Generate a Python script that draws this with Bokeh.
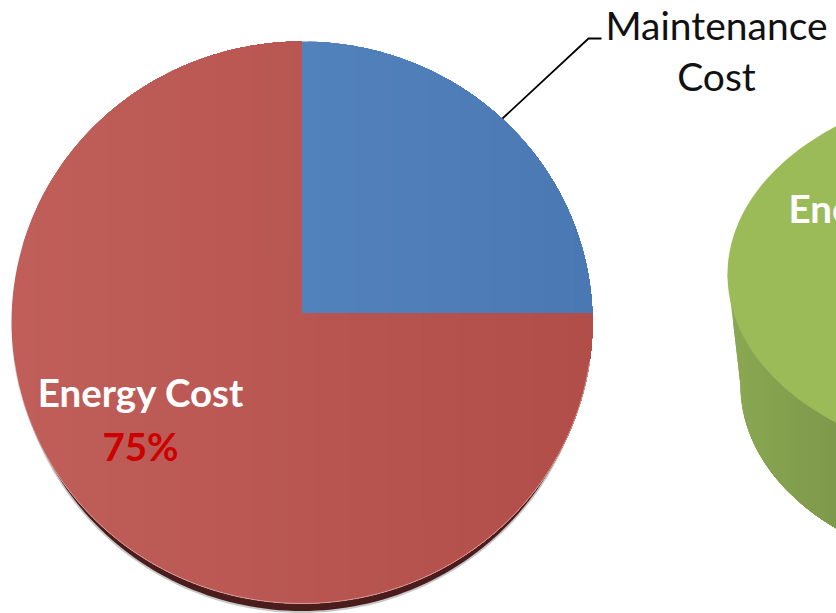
import math
from bokeh.plotting import figure
from bokeh.models import Range1d
from bokeh.embed import file_html
from bokeh.resources import INLINE
from bokeh.core.properties import value

slice_labels = ["Maintenance Cost", "Energy Cost"]
slice_shares = [25, 75]
slice_left_rgb = [(82, 130, 188), (192, 94, 90)]
slice_right_rgb = [(74, 120, 178), (177, 78, 74)]
pct_label = "75%"
FONT = value("Lato")

W, H = 836, 613
p = figure(width=W, height=H, output_backend="svg", toolbar_location=None,
           x_range=Range1d(0, W), y_range=Range1d(H, 0), min_border=0)
p.axis.visible = False
p.grid.visible = False
p.outline_line_color = None
p.background_fill_color = "white"
p.border_fill_color = "white"

AX, AY = 301.5, 313.0
CX, CY, RA, RB = 301.5, 322.0, 290.5, 281.0


def ray_hit(deg):
    dx, dy = math.cos(math.radians(deg)), -math.sin(math.radians(deg))
    ox, oy = (AX - CX) / RA, (AY - CY) / RB
    ux, uy = dx / RA, dy / RB
    a = ux * ux + uy * uy
    b = 2 * (ox * ux + oy * uy)
    c = ox * ox + oy * oy - 1
    t = (-b + math.sqrt(b * b - 4 * a * c)) / (2 * a)
    return AX + t * dx, AY + t * dy


def clip_right(pts, x0):
    out = []
    for i, (x1, y1) in enumerate(pts):
        x2, y2 = pts[(i + 1) % len(pts)]
        if x1 >= x0:
            out.append((x1, y1))
        if (x1 < x0) != (x2 < x0):
            f = (x0 - x1) / (x2 - x1)
            out.append((x0, y1 + f * (y2 - y1)))
    return out


def painted(pts, xa, xb, c0, c1, n=48):
    for i in range(n):
        x0 = xa + (xb - xa) * i / n
        poly = clip_right(pts, x0)
        if len(poly) < 3:
            continue
        f = i / (n - 1)
        col = tuple(round(u + (v - u) * f) for u, v in zip(c0, c1))
        p.patch([q[0] for q in poly], [q[1] for q in poly], fill_color="#%02x%02x%02x" % col, line_color=None)


def ell(cx, cy, a, b, t0, t1, n=160):
    return [(cx + a * math.cos(math.radians(t0 + (t1 - t0) * i / n)),
             cy + b * math.sin(math.radians(t0 + (t1 - t0) * i / n))) for i in range(n + 1)]


# Right-hand 3D pie, cut off by the picture edge
top_c = (1017, 274, 290, 190)
low_c = (1017, 385, 277, 189)
side = [(727, 274)] + ell(*low_c, 180, 90) + [(1017, 274)]
painted(side, 727, 900, (138, 168, 82), (118, 144, 70), n=30)
top = ell(*top_c, 0, 360, n=240)
p.patch([q[0] for q in top], [q[1] for q in top], fill_color="#9bbb59", line_color=None)

# Soft shadow and dark rim of the main pie
shadow = ell(CX, CY + 9.5, RA - 4, RB, 0, 360, n=240)
p.patch([q[0] for q in shadow], [q[1] for q in shadow], fill_color="#000000", fill_alpha=0.22, line_color=None)
rim = ell(CX, CY + 8, RA - 5, RB - 0.5, 0, 360, n=240)
p.patch([q[0] for q in rim], [q[1] for q in rim], fill_color="#4b1c1c", line_color=None)

# Pie slices, from the shares, clockwise from the top
total = sum(slice_shares)
angle = 90.0
for k, share in enumerate(slice_shares):
    end = angle - 360.0 * share / total
    n = max(8, int(share * 4))
    arc = [ray_hit(angle + (end - angle) * i / n) for i in range(n + 1)]
    poly = [(AX, AY)] + arc
    xs = [q[0] for q in poly]
    painted(poly, min(xs), max(xs), slice_left_rgb[k], slice_right_rgb[k])
    angle = end

# Thin highlight on the lower edge
edge = ell(CX, CY, RA, RB, 8, 172)
p.line([q[0] for q in edge], [q[1] for q in edge], line_color="#e8c8c6", line_width=0.8, line_alpha=0.8)

# Leader line
p.line([502, 588, 601], [118, 38, 38], line_color="black", line_width=1.8)

p.text([716], [24], text=["Maintenance"], text_font=FONT, text_font_size="39px", text_color="#111111",
       text_align="center", text_baseline="alphabetic")
p.text([716], [75], text=["Cost"], text_font=FONT, text_font_size="39px", text_color="#111111",
       text_align="center", text_baseline="alphabetic")
p.text([140.5], [391], text=[slice_labels[1]], text_font=FONT, text_font_style="bold", text_font_size="38.5px",
       text_color="white", text_align="center", text_baseline="alphabetic")
p.text([140], [445], text=[pct_label], text_font=FONT, text_font_style="bold", text_font_size="38.5px",
       text_color="#cc0000", text_align="center", text_baseline="alphabetic")
p.text([788], [207], text=[slice_labels[1]], text_font=FONT, text_font_style="bold", text_font_size="38.5px",
       text_color="white", text_align="left", text_baseline="alphabetic")

open("out.html", "w").write(file_html(p, INLINE))
